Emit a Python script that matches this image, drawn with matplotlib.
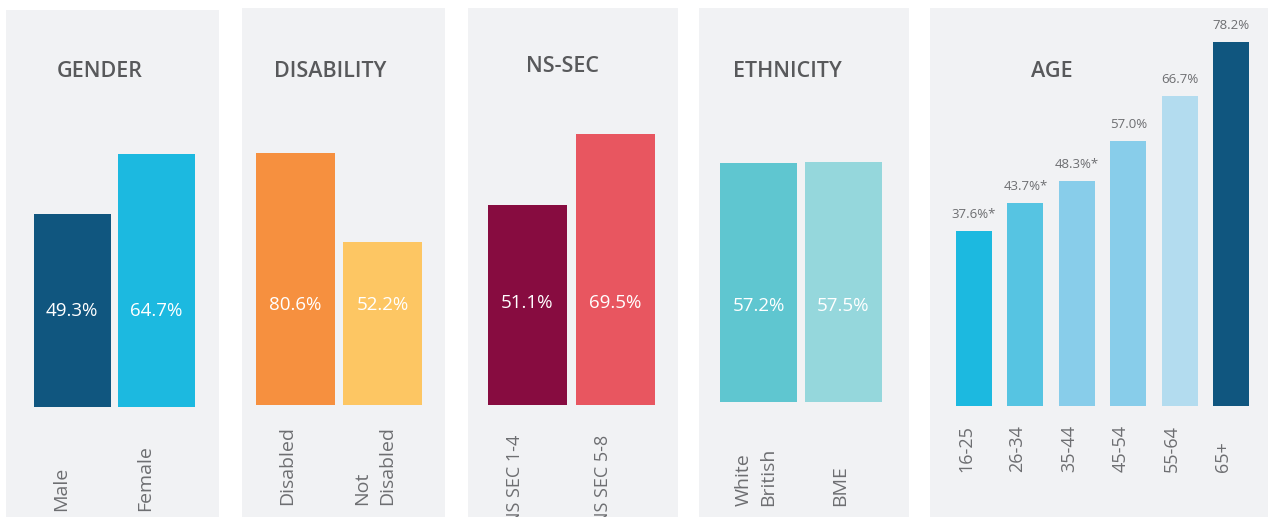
import numpy as np
import matplotlib.pyplot as plt

plt.rcParams['font.family'] = ['Open Sans', 'DejaVu Sans']

# data
gender_cats = ['Male', 'Female']
gender_vals = [49.3, 64.7]
disab_cats = ['Disabled', 'Not\nDisabled']
disab_vals = [80.6, 52.2]
nssec_cats = ['NS SEC 1-4', 'NS SEC 5-8']
nssec_vals = [51.1, 69.5]
ethn_cats = ['White\nBritish', 'BME']
ethn_vals = [57.2, 57.5]
age_cats = ['16-25', '26-34', '35-44', '45-54', '55-64', '65+']
age_vals = [37.6, 43.7, 48.3, 57.0, 66.7, 78.2]
age_marks = ['*', '*', '*', '', '', '']

W, H = 1268, 517
fig = plt.figure(figsize=(W / 100, H / 100), dpi=100)
fig.patch.set_facecolor('white')

panel_bg = '#f1f2f4'
title_col = '#58595b'
label_col = '#6d6e71'


def make_panel(left, right, top, c0, pitch, bw, base, k, cats, vals, colors,
               title, title_x, title_y, lab_off, lab_y, lab_va='bottom',
               lab_size=14, val_y=None, bottom=H):
    ax = fig.add_axes([left / W, 1 - bottom / H, (right - left) / W, (bottom - top) / H])
    ax.set_facecolor(panel_bg)
    for s in ax.spines.values():
        s.set_visible(False)
    ax.set_xticks([])
    ax.set_yticks([])
    ax.set_xlim((left - c0) / pitch, (right - c0) / pitch)
    ax.set_ylim(-(bottom - base) / k, (base - top) / k)
    x = np.arange(len(vals))
    ax.bar(x, vals, width=bw / pitch, color=colors)
    for i, lab in enumerate(cats):
        ax.text(i + lab_off / pitch, (base - lab_y) / k, lab, rotation=90,
                ha='center', va=lab_va, multialignment='left',
                fontsize=lab_size, color=label_col, linespacing=1.45, clip_on=False)
    if val_y is not None:
        for i, v in enumerate(vals):
            ax.text(i, (base - val_y) / k, f'{v:.1f}%', ha='center', va='center',
                    fontsize=13.5, color='white')
    fig.text(title_x / W, 1 - title_y / H, title, ha='center', va='center',
             fontsize=15.5, fontweight='semibold', color=title_col)
    return ax


make_panel(6, 219, 10, 72, 84.5, 77, 407, 3.91, gender_cats, gender_vals,
           ['#10567f', '#1cb9e0'], 'GENDER', 100, 71, -11, 511, val_y=311)
make_panel(242, 445, 8, 295.5, 87, 79, 405, 3.127, disab_cats, disab_vals,
           ['#f6903f', '#fdc663'], 'DISABILITY', 330, 71, -8, 505, val_y=305)
make_panel(468, 678, 8, 527.5, 88, 79, 405, 3.905, nssec_cats, nssec_vals,
           ['#870c40', '#e85660'], 'NS-SEC', 562, 67, -13, 435, lab_va='top',
           lab_size=13, val_y=303)
make_panel(699, 909, 8, 758.5, 85, 77, 402, 4.18, ethn_cats, ethn_vals,
           ['#5fc6d0', '#95d7dc'], 'ETHNICITY', 787, 71, -3, 506, val_y=306)
ax = make_panel(930, 1268, 8, 974, 51.4, 36, 406, 4.655, age_cats, age_vals,
                ['#1cb9e0', '#56c4e2', '#88cdea', '#88cdea', '#b3dcef', '#10567f'],
                'AGE', 1052, 71, -8, 472, lab_size=13)
for i, (v, m) in enumerate(zip(age_vals, age_marks)):
    ax.text(i, v + 10 / 4.655, f'{v:.1f}%{m}', ha='center', va='bottom',
            fontsize=9.5, color=label_col)

fig.savefig('out.png', dpi=100)
